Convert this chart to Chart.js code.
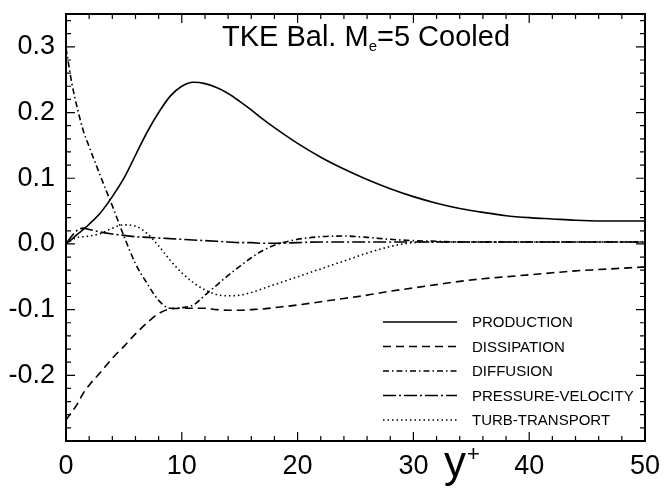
<!DOCTYPE html>
<html>
<head>
<meta charset="utf-8">
<script src="https://cdn.jsdelivr.net/npm/chart.js@4.4.1/dist/chart.umd.min.js"></script>
<style>
  body { margin: 0; background: #fff; }
  canvas { display: block; }
</style>
</head>
<body>
<canvas id="tke" width="664" height="488"></canvas>
<script>
// y+ stations, shared by all terms
const yPlus = [0, 0.5, 1, 1.5, 2, 3, 4, 5, 6, 7, 8, 9, 10, 11, 12, 13, 14, 15, 16, 17, 18,
  20, 22, 24, 26, 28, 30, 32, 34, 36, 38, 40, 42, 44, 46, 48, 50];

const production = [0, 0.007, 0.015, 0.022, 0.03, 0.048, 0.072, 0.1, 0.135, 0.17, 0.2, 0.225, 0.24,
  0.246, 0.244, 0.238, 0.229, 0.217, 0.204, 0.19, 0.177, 0.153, 0.132, 0.114, 0.098, 0.084, 0.072,
  0.062, 0.054, 0.048, 0.043, 0.04, 0.038, 0.036, 0.035, 0.035, 0.035];

const dissipation = [-0.268, -0.256, -0.243, -0.227, -0.215, -0.195, -0.174, -0.156, -0.137, -0.12,
  -0.106, -0.099, -0.098, -0.098, -0.098, -0.1, -0.101, -0.101, -0.1, -0.099, -0.097, -0.093, -0.088,
  -0.083, -0.078, -0.072, -0.067, -0.062, -0.057, -0.053, -0.05, -0.047, -0.044, -0.041, -0.039,
  -0.037, -0.035];

const diffusion = [0.298, 0.245, 0.205, 0.172, 0.148, 0.102, 0.058, 0.012, -0.03, -0.06, -0.086,
  -0.098, -0.097, -0.093, -0.078, -0.063, -0.048, -0.034, -0.021, -0.01, -0.002, 0.007, 0.011, 0.012,
  0.01, 0.007, 0.005, 0.004, 0.003, 0.003, 0.003, 0.003, 0.003, 0.003, 0.003, 0.003, 0.003];

const pressureVelocity = [0, 0.012, 0.021, 0.024, 0.022, 0.018, 0.015, 0.013, 0.011, 0.01, 0.009,
  0.008, 0.007, 0.006, 0.005, 0.004, 0.003, 0.002, 0.002, 0.001, 0.001, 0.002, 0.003, 0.003, 0.003,
  0.003, 0.003, 0.003, 0.003, 0.003, 0.003, 0.003, 0.003, 0.003, 0.003, 0.003, 0.003];

const turbTransport = [0, 0.006, 0.01, 0.011, 0.012, 0.016, 0.024, 0.029, 0.027, 0.016, -0.003,
  -0.025, -0.044, -0.059, -0.07, -0.077, -0.079, -0.078, -0.074, -0.068, -0.062, -0.05, -0.038,
  -0.026, -0.014, -0.004, 0.002, 0.003, 0.003, 0.003, 0.003, 0.003, 0.003, 0.003, 0.003, 0.003, 0.003];

const xTicks = [0, 10, 20, 30, 40, 50];
const yTicks = [-0.2, -0.1, 0, 0.1, 0.2, 0.3];

const FONT = "'Liberation Sans', Arial, Helvetica, sans-serif";

function pts(vals) {
  return yPlus.map((x, i) => ({ x: x, y: vals[i] }));
}

function series(label, vals, dash) {
  return {
    label: label,
    data: pts(vals),
    borderColor: "#000",
    borderWidth: 1.6,
    borderDash: dash,
    pointRadius: 0,
    fill: false,
    cubicInterpolationMode: "monotone",
  };
}

// frame, inside ticks on all four sides, title, y+ label and legend
const framePlugin = {
  id: "frame",
  afterDraw(chart) {
    const { ctx, chartArea: a, scales } = chart;
    const xs = scales.x, ys = scales.y;
    ctx.save();
    ctx.strokeStyle = "#000";
    ctx.setLineDash([]);
    ctx.lineWidth = 1.2;
    for (let v = 0; v <= 50.001; v += 2) {
      const px = xs.getPixelForValue(v);
      const len = Math.abs(v % 10) < 0.01 ? 9 : 5;
      ctx.beginPath();
      ctx.moveTo(px, a.bottom); ctx.lineTo(px, a.bottom - len);
      ctx.moveTo(px, a.top); ctx.lineTo(px, a.top + len);
      ctx.stroke();
    }
    for (let v = -0.3; v <= 0.35; v += 0.02) {
      const py = ys.getPixelForValue(v);
      const major = Math.abs(Math.round(v * 10) - v * 10) < 0.01;
      const len = major ? 9 : 5;
      ctx.beginPath();
      ctx.moveTo(a.left, py); ctx.lineTo(a.left + len, py);
      ctx.moveTo(a.right, py); ctx.lineTo(a.right - len, py);
      ctx.stroke();
    }
    ctx.lineWidth = 2;
    ctx.strokeRect(a.left, a.top, a.right - a.left, a.bottom - a.top);

    // title with subscript
    ctx.fillStyle = "#000";
    ctx.textBaseline = "alphabetic";
    ctx.textAlign = "left";
    let tx = 222;
    const ty = 46;
    ctx.font = "29px " + FONT;
    ctx.fillText("TKE Bal. M", tx, ty);
    tx += ctx.measureText("TKE Bal. M").width;
    ctx.font = "15px " + FONT;
    ctx.fillText("e", tx, ty + 5);
    tx += ctx.measureText("e").width;
    ctx.font = "29px " + FONT;
    ctx.fillText("=5 Cooled", tx, ty);

    // axis label y+
    ctx.font = "44px " + FONT;
    ctx.fillText("y", 444, 477);
    ctx.font = "22px " + FONT;
    ctx.fillText("+", 467, 461);

    // legend
    ctx.font = "15px " + FONT;
    ctx.textBaseline = "middle";
    chart.data.datasets.forEach((ds, i) => {
      const ly = 322 + i * 24.5;
      ctx.setLineDash(ds.borderDash || []);
      ctx.lineWidth = 1.4;
      ctx.beginPath();
      ctx.moveTo(383, ly);
      ctx.lineTo(457, ly);
      ctx.stroke();
      ctx.setLineDash([]);
      ctx.fillText(ds.label, 472, ly + 1);
    });
    ctx.restore();
  },
};

new Chart(document.getElementById("tke"), {
  type: "line",
  data: {
    datasets: [
      series("PRODUCTION", production, []),
      series("DISSIPATION", dissipation, [8, 5]),
      series("DIFFUSION", diffusion, [6, 3, 1.5, 3]),
      series("PRESSURE-VELOCITY", pressureVelocity, [13, 3, 2, 3]),
      series("TURB-TRANSPORT", turbTransport, [1.5, 3]),
    ],
  },
  options: {
    responsive: false,
    animation: false,
    layout: { padding: { top: 14, right: 19, left: 0, bottom: 0 } },
    plugins: { legend: { display: false }, tooltip: { enabled: false } },
    scales: {
      x: {
        type: "linear",
        min: 0,
        max: 50,
        grid: { display: false, drawTicks: false },
        border: { display: false },
        afterBuildTicks: (s) => { s.ticks = xTicks.map((v) => ({ value: v })); },
        afterFit: (s) => {
          s.height = 47;
          s.paddingLeft = 0;
          s.paddingRight = 0;
        },
        ticks: {
          color: "#000",
          font: { family: FONT, size: 27 },
          padding: 9,
          maxRotation: 0,
          callback: (v) => String(v),
        },
      },
      y: {
        min: -0.3,
        max: 0.35,
        grid: { display: false, drawTicks: false },
        border: { display: false },
        afterBuildTicks: (s) => { s.ticks = yTicks.map((v) => ({ value: v })); },
        afterFit: (s) => {
          s.width = 66;
          s.paddingTop = 0;
          s.paddingBottom = 0;
        },
        ticks: {
          color: "#000",
          font: { family: FONT, size: 27 },
          padding: 11,
          callback: (v) => Number(v).toFixed(1),
        },
      },
    },
  },
  plugins: [framePlugin],
});
</script>
</body>
</html>
